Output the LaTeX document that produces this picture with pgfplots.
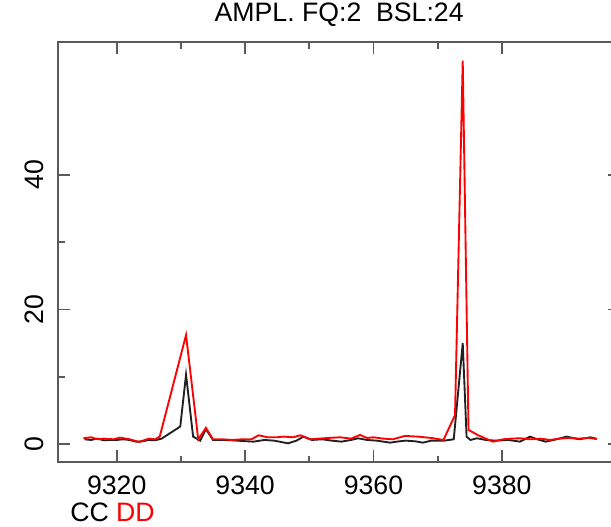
\documentclass[border=0pt]{standalone}
\usepackage{pgfplots}
\pgfplotsset{compat=1.18}
\usepackage{fontspec}
\setmainfont{Liberation Sans}
\definecolor{axgray}{HTML}{5A5A5A}
\definecolor{ccblack}{HTML}{202020}
\begin{document}
\begin{tikzpicture}
\fontsize{20}{24}\selectfont
\begin{axis}[
  name=ax,
  at={(43.725pt,48.525pt)}, anchor=south west,
  scale only axis, width=421.275pt, height=314.85pt,
  xmin=9310.9, xmax=9398.4, ymin=-2.72, ymax=59.7,
  xtick={9320,9340,9360,9380}, ytick={0,20,40},
  minor x tick num=1, minor y tick num=1,
  tick align=inside, major tick length=9pt, minor tick length=5pt,
  axis line style={axgray, line width=1.5pt},
  every tick/.style={axgray, line width=1.3pt},
  /pgf/number format/assume math mode=true,
  /pgf/number format/1000 sep={},
  xticklabel style={inner sep=0pt, anchor=north},
  xticklabel shift=9.75pt,
  yticklabel style={rotate=90, anchor=south, inner sep=0pt},
  yticklabel shift=11pt,
  title={AMPL.\ FQ:2\ \ BSL:24},
  title style={inner sep=0pt, anchor=south, at={(0.5,1)}, yshift=6pt},
]
\addplot[ccblack, line width=1.4pt] coordinates {
(9315.0,0.7) (9316.0,0.6) (9317.0,0.8) (9318.0,0.55) (9319.0,0.6) (9320.0,0.6)
(9321.0,0.7) (9322.0,0.6) (9323.0,0.35) (9324.0,0.4) (9325.0,0.6) (9326.0,0.55)
(9327.0,0.8) (9329.9,2.6) (9330.8,10.3) (9331.9,1.1) (9333.0,0.5) (9333.9,2.2)
(9335.0,0.6) (9336.5,0.6) (9338.0,0.55) (9339.5,0.45) (9341.3,0.35) (9343.0,0.6)
(9344.5,0.5) (9346.7,0.1) (9348.0,0.5) (9349.1,1.1) (9350.4,0.6) (9352.0,0.7)
(9353.5,0.5) (9355.0,0.35) (9356.5,0.6) (9357.6,0.85) (9359.0,0.6) (9360.5,0.5)
(9362.6,0.2) (9363.6,0.35) (9365.0,0.5) (9366.5,0.4) (9367.7,0.2) (9369.0,0.5)
(9371.0,0.5) (9372.5,0.7) (9373.9,15.0) (9374.5,1.1) (9375.1,0.6) (9376.1,0.85)
(9377.5,0.6) (9379.0,0.5) (9381.0,0.6) (9382.8,0.35) (9384.4,1.1) (9385.5,0.7)
(9386.8,0.35) (9388.5,0.7) (9390.1,1.1) (9392.0,0.7) (9393.8,1.0) (9394.8,0.75)
};
\addplot[red, line width=1.4pt] coordinates {
(9314.8,0.85) (9316.0,1.0) (9317.0,0.7) (9318.0,0.8) (9319.5,0.7) (9320.5,0.95)
(9322.0,0.7) (9323.5,0.3) (9325.0,0.8) (9326.0,0.7) (9326.7,1.1) (9330.8,16.2)
(9332.7,0.7) (9333.9,2.4) (9335.0,0.7) (9336.5,0.7) (9338.0,0.6) (9339.5,0.7)
(9341.0,0.7) (9342.1,1.3) (9343.5,1.0) (9345.0,1.0) (9346.0,1.1) (9347.5,1.0)
(9348.6,1.3) (9350.1,0.7) (9351.5,0.8) (9353.0,0.9) (9354.8,1.0) (9356.5,0.8)
(9357.9,1.35) (9359.0,0.9) (9360.0,1.0) (9361.5,0.8) (9363.0,0.7) (9364.9,1.2)
(9366.9,1.1) (9369.0,0.9) (9370.9,0.6) (9372.7,4.3) (9373.9,57.0) (9374.8,2.1)
(9376.3,1.3) (9378.6,0.35) (9380.2,0.7) (9381.5,0.8) (9382.8,0.85) (9384.5,0.7)
(9386.0,0.8) (9387.5,0.6) (9389.0,0.8) (9390.5,0.9) (9392.0,0.8) (9393.5,0.9)
(9394.8,0.75)
};
\end{axis}
\node[anchor=west, inner sep=0pt] at ([xshift=8.8pt, yshift=-37.5pt]ax.south west) {CC \textcolor{red}{DD}};
\pgfresetboundingbox
\path[use as bounding box] (0,0) rectangle (458.25pt,395.25pt);
\end{tikzpicture}
\end{document}
